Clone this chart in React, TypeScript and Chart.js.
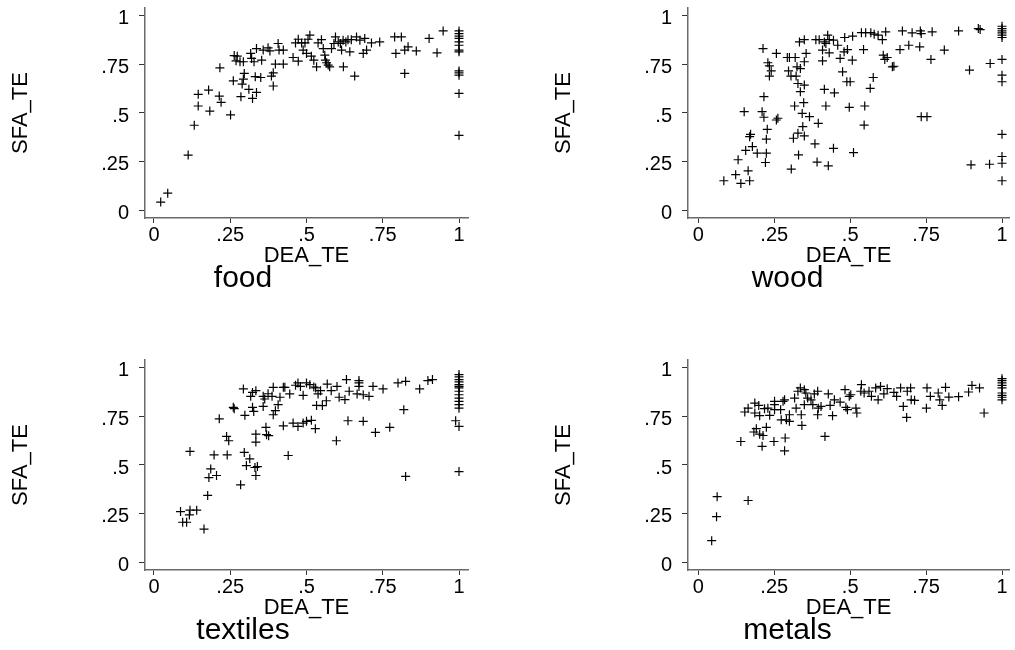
import React, { useEffect, useRef } from "react";
import { Chart, registerables } from "chart.js";

Chart.register(...registerables);

const FONT = "'Liberation Sans', Arial, Helvetica, sans-serif";

const TICK_VALUES = [0, 0.25, 0.5, 0.75, 1];
const TICK_LABELS = ["0", ".25", ".5", ".75", "1"];
const X_TITLE = "DEA_TE";
const Y_TITLE = "SFA_TE";
const PANEL_NAMES = ["food", "wood", "textiles", "metals"];

const FOOD_X = [
  0.022, 0.045, 0.112, 0.132, 0.145, 0.145, 0.179, 0.183, 0.216, 0.214,
  0.22, 0.251, 0.26, 0.263, 0.273, 0.269, 0.282, 0.293, 0.296, 0.293,
  0.289, 0.285, 0.311, 0.317, 0.32, 0.328, 0.336, 0.323, 0.332, 0.35,
  0.336, 0.353, 0.358, 0.374, 0.38, 0.385, 0.391, 0.391, 0.398, 0.407,
  0.41, 0.424, 0.424, 0.456, 0.464, 0.473, 0.473, 0.484, 0.489, 0.495,
  0.5, 0.505, 0.511, 0.516, 0.524, 0.533, 0.538, 0.549, 0.555, 0.56,
  0.562, 0.566, 0.571, 0.576, 0.582, 0.59, 0.595, 0.604, 0.611, 0.615,
  0.62, 0.621, 0.629, 0.636, 0.642, 0.647, 0.658, 0.664, 0.675, 0.686,
  0.691, 0.697, 0.713, 0.74, 0.789, 0.793, 0.811, 0.822, 0.822, 0.833,
  0.86, 0.902, 0.928, 0.948,
  1, 1, 1, 1, 1, 1, 1, 1, 1, 1, 1, 1, 1,
];
const FOOD_Y = [
  0.041, 0.087, 0.283, 0.437, 0.596, 0.536, 0.618, 0.51, 0.733, 0.587,
  0.555, 0.49, 0.666, 0.796, 0.793, 0.769, 0.764, 0.764, 0.704, 0.675,
  0.649, 0.584, 0.622, 0.807, 0.781, 0.764, 0.606, 0.575, 0.687, 0.683,
  0.832, 0.772, 0.824, 0.836, 0.82, 0.69, 0.707, 0.639, 0.752, 0.858,
  0.824, 0.824, 0.752, 0.786, 0.861, 0.767, 0.88, 0.861, 0.824, 0.861,
  0.807, 0.88, 0.901, 0.793, 0.772, 0.738, 0.861, 0.878, 0.832, 0.798,
  0.772, 0.759, 0.747, 0.738, 0.832, 0.858, 0.892, 0.866, 0.858, 0.824,
  0.875, 0.738, 0.866, 0.878, 0.815, 0.878, 0.69, 0.892, 0.875, 0.807,
  0.884, 0.824, 0.861, 0.866, 0.892, 0.807, 0.892, 0.704, 0.824, 0.841,
  0.82, 0.884, 0.81, 0.923,
  0.923, 0.909, 0.896, 0.884, 0.866, 0.849, 0.824, 0.815, 0.717, 0.707, 0.695, 0.601, 0.385,
];

const WOOD_X = [
  0.084, 0.123, 0.14, 0.169, 0.164, 0.131, 0.156, 0.178, 0.194, 0.224,
  0.221, 0.169, 0.172, 0.224, 0.227, 0.151, 0.21, 0.216, 0.257, 0.262,
  0.216, 0.213, 0.229, 0.234, 0.24, 0.234, 0.257, 0.293, 0.3, 0.297,
  0.305, 0.319, 0.325, 0.322, 0.336, 0.349, 0.355, 0.333, 0.349, 0.328,
  0.349, 0.336, 0.347, 0.317, 0.342, 0.366, 0.395, 0.344, 0.328, 0.349,
  0.313, 0.384, 0.33, 0.306, 0.391, 0.428, 0.445, 0.511, 0.42, 0.415,
  0.448, 0.497, 0.548, 0.546, 0.566, 0.576, 0.489, 0.5, 0.475, 0.467,
  0.48, 0.491, 0.507, 0.409, 0.431, 0.409, 0.387, 0.398, 0.415, 0.42,
  0.426, 0.431, 0.445, 0.459, 0.482, 0.508, 0.537, 0.551, 0.568, 0.579,
  0.592, 0.606, 0.617, 0.544, 0.609, 0.614, 0.622, 0.639, 0.644, 0.664,
  0.672, 0.693, 0.704, 0.731, 0.734, 0.729, 0.77, 0.766, 0.81, 0.734,
  0.753, 0.857, 0.893, 0.898, 0.922, 0.928, 0.961, 0.959,
  1, 1, 1, 1, 1, 1, 1, 1, 1, 1, 1, 1, 1,
];
const WOOD_Y = [
  0.151, 0.182, 0.137, 0.151, 0.202, 0.259, 0.307, 0.327, 0.293, 0.293,
  0.245, 0.378, 0.39, 0.365, 0.416, 0.507, 0.507, 0.478, 0.464, 0.473,
  0.584, 0.832, 0.759, 0.743, 0.717, 0.69, 0.807, 0.786, 0.786, 0.717,
  0.69, 0.786, 0.738, 0.69, 0.729, 0.764, 0.807, 0.866, 0.878, 0.652,
  0.644, 0.61, 0.553, 0.536, 0.498, 0.481, 0.447, 0.43, 0.396, 0.382,
  0.37, 0.341, 0.284, 0.211, 0.247, 0.228, 0.318, 0.296, 0.536, 0.622,
  0.604, 0.529, 0.536, 0.438, 0.627, 0.683, 0.661, 0.661, 0.712, 0.781,
  0.815, 0.827, 0.772, 0.769, 0.81, 0.824, 0.878, 0.878, 0.866, 0.858,
  0.901, 0.878, 0.875, 0.849, 0.889, 0.896, 0.914, 0.914, 0.914, 0.906,
  0.901, 0.878, 0.918, 0.827, 0.798, 0.776, 0.786, 0.738, 0.741, 0.827,
  0.923, 0.849, 0.913, 0.923, 0.909, 0.841, 0.918, 0.776, 0.824, 0.481,
  0.481, 0.923, 0.721, 0.233, 0.935, 0.93, 0.755, 0.236,
  0.947, 0.935, 0.923, 0.913, 0.901, 0.889, 0.776, 0.695, 0.661, 0.39, 0.276, 0.241, 0.151,
];

const TEXTILES_X = [
  0.087, 0.094, 0.107, 0.118, 0.116, 0.14, 0.164, 0.176, 0.18, 0.186,
  0.205, 0.197, 0.24, 0.118, 0.214, 0.238, 0.245, 0.26, 0.263, 0.284,
  0.296, 0.303, 0.314, 0.331, 0.334, 0.339, 0.334, 0.334, 0.298, 0.327,
  0.323, 0.293, 0.317, 0.323, 0.334, 0.358, 0.363, 0.367, 0.369, 0.376,
  0.358, 0.374, 0.391, 0.387, 0.391, 0.398, 0.407, 0.413, 0.424, 0.429,
  0.445, 0.424, 0.44, 0.456, 0.472, 0.489, 0.5, 0.516, 0.529, 0.464,
  0.472, 0.48, 0.489, 0.5, 0.511, 0.524, 0.53, 0.538, 0.546, 0.533,
  0.552, 0.565, 0.568, 0.581, 0.598, 0.6, 0.607, 0.626, 0.631, 0.64,
  0.672, 0.672, 0.672, 0.666, 0.686, 0.705, 0.718, 0.726, 0.751, 0.773,
  0.8, 0.825, 0.819, 0.825, 0.871, 0.898, 0.913, 0.636, 0.686, 0.989,
  1, 1, 1, 1, 1, 1, 1, 1, 1, 1, 1, 1, 1, 1, 1,
];
const TEXTILES_Y = [
  0.26, 0.205, 0.205, 0.267, 0.243, 0.267, 0.17, 0.343, 0.435, 0.48,
  0.446, 0.552, 0.552, 0.57, 0.738, 0.647, 0.625, 0.797, 0.79, 0.398,
  0.565, 0.497, 0.532, 0.487, 0.446, 0.492, 0.659, 0.618, 0.756, 0.776,
  0.797, 0.892, 0.854, 0.874, 0.883, 0.854, 0.84, 0.694, 0.656, 0.651,
  0.802, 0.867, 0.9, 0.854, 0.759, 0.78, 0.811, 0.849, 0.9, 0.9,
  0.866, 0.702, 0.549, 0.716, 0.699, 0.716, 0.725, 0.73, 0.687, 0.911,
  0.923, 0.905, 0.859, 0.923, 0.914, 0.902, 0.897, 0.866, 0.883, 0.807,
  0.806, 0.831, 0.917, 0.883, 0.625, 0.905, 0.849, 0.837, 0.94, 0.88,
  0.935, 0.923, 0.905, 0.866, 0.862, 0.854, 0.905, 0.668, 0.892, 0.694,
  0.923, 0.931, 0.785, 0.441, 0.892, 0.935, 0.94, 0.728, 0.725, 0.728,
  0.966, 0.954, 0.94, 0.928, 0.914, 0.905, 0.897, 0.88, 0.862, 0.845, 0.828, 0.811, 0.793, 0.699, 0.466,
];

const METALS_X = [
  0.044, 0.06, 0.062, 0.164, 0.14, 0.153, 0.164, 0.186, 0.186, 0.202,
  0.199, 0.218, 0.229, 0.235, 0.251, 0.251, 0.271, 0.279, 0.284, 0.273,
  0.29, 0.3, 0.183, 0.191, 0.202, 0.213, 0.224, 0.21, 0.249, 0.286,
  0.284, 0.317, 0.322, 0.328, 0.339, 0.341, 0.336, 0.349, 0.354, 0.36,
  0.371, 0.382, 0.393, 0.395, 0.404, 0.393, 0.417, 0.428, 0.434, 0.442,
  0.448, 0.467, 0.483, 0.486, 0.491, 0.497, 0.502, 0.519, 0.522, 0.537,
  0.535, 0.546, 0.562, 0.57, 0.584, 0.592, 0.6, 0.611, 0.622, 0.644,
  0.653, 0.666, 0.675, 0.686, 0.688, 0.699, 0.701, 0.712, 0.753, 0.751,
  0.764, 0.79, 0.795, 0.803, 0.814, 0.825, 0.857, 0.89, 0.901, 0.926,
  0.941, 0.3, 0.349, 0.377, 0.251,
  1, 1, 1, 1, 1, 1, 1, 1, 1,
];
const METALS_Y = [
  0.11, 0.234, 0.337, 0.317, 0.621, 0.773, 0.793, 0.819, 0.768, 0.754,
  0.807, 0.79, 0.793, 0.756, 0.828, 0.811, 0.785, 0.828, 0.836, 0.733,
  0.733, 0.725, 0.67, 0.687, 0.659, 0.652, 0.694, 0.596, 0.621, 0.639,
  0.573, 0.845, 0.793, 0.88, 0.759, 0.704, 0.897, 0.888, 0.871, 0.845,
  0.836, 0.866, 0.88, 0.793, 0.802, 0.759, 0.647, 0.866, 0.807, 0.754,
  0.836, 0.824, 0.888, 0.797, 0.785, 0.854, 0.862, 0.793, 0.768, 0.914,
  0.88, 0.871, 0.88, 0.854, 0.897, 0.836, 0.905, 0.866, 0.893, 0.874,
  0.854, 0.897, 0.802, 0.745, 0.88, 0.897, 0.836, 0.833, 0.897, 0.793,
  0.854, 0.871, 0.836, 0.807, 0.9, 0.85, 0.852, 0.876, 0.91, 0.897,
  0.768, 0.759, 0.811, 0.811, 0.785,
  0.945, 0.935, 0.923, 0.91, 0.897, 0.871, 0.859, 0.849, 0.836,
];

const SERIES_X = [FOOD_X, WOOD_X, TEXTILES_X, METALS_X];
const SERIES_Y = [FOOD_Y, WOOD_Y, TEXTILES_Y, METALS_Y];

type PanelLayout = {
  left: number;
  top: number;
  width: number;
  height: number;
  padL: number;
  padR: number;
  padB: number;
  axisX: number;
  xMin: number;
  xMax: number;
  yTitlePad: number;
};

const LEFT_COL = { left: 0, width: 507, padL: 18, padR: 39, axisX: 145, xMin: -0.0295, xMax: 1.0295, yTitlePad: -8 };
const RIGHT_COL = { left: 507, width: 508, padL: 57, padR: 4, axisX: 181, xMin: -0.034, xMax: 1.024, yTitlePad: -11 };
const TOP_ROW = { top: 0, height: 325, padB: 31 };
const BOTTOM_ROW = { top: 352, height: 298, padB: 4 };

const LAYOUTS: PanelLayout[] = [
  { ...LEFT_COL, ...TOP_ROW },
  { ...RIGHT_COL, ...TOP_ROW },
  { ...LEFT_COL, ...BOTTOM_ROW },
  { ...RIGHT_COL, ...BOTTOM_ROW },
];

function Panel({ name, xs, ys, lay }: { name: string; xs: number[]; ys: number[]; lay: PanelLayout }) {
  const ref = useRef<HTMLCanvasElement>(null);
  useEffect(() => {
    const canvas = ref.current;
    if (!canvas) return;
    const points = xs.map((x, i) => ({ x, y: ys[i] }));
    const tickFont = { family: FONT, size: 20, weight: "normal" as const, lineHeight: 1.2 };
    const titleFont = { family: FONT, size: 22, weight: "normal" as const, lineHeight: 1 };
    const chart = new Chart(canvas, {
      type: "scatter",
      data: {
        datasets: [
          {
            data: points,
            pointStyle: "cross",
            pointRadius: 4.5,
            pointHoverRadius: 4.5,
            borderColor: "#000",
            backgroundColor: "#000",
            borderWidth: 1.2,
          },
        ],
      },
      options: {
        animation: false,
        responsive: false,
        devicePixelRatio: 1,
        events: [],
        layout: { padding: { left: lay.padL, right: lay.padR, top: 8, bottom: lay.padB } },
        plugins: {
          legend: { display: false },
          tooltip: { enabled: false },
          title: {
            display: true,
            text: name,
            position: "bottom",
            color: "#000",
            font: { family: FONT, size: 30, weight: "normal", lineHeight: 1 },
            padding: { top: -2, bottom: 0 },
          },
        },
        scales: {
          x: {
            type: "linear",
            position: "bottom",
            min: lay.xMin,
            max: lay.xMax,
            bounds: "data",
            afterBuildTicks: (s: any) => {
              s.ticks = TICK_VALUES.map((v) => ({ value: v }));
            },
            afterFit: (s: any) => {
              s.height = 48;
              s.paddingLeft = 0;
              s.paddingRight = 0;
            },
            grid: { display: true, drawOnChartArea: false, drawTicks: true, tickLength: 5, color: "#333", lineWidth: 1 },
            border: { display: true, color: "#6a6a6a", width: 1.5 },
            ticks: {
              autoSkip: false,
              maxRotation: 0,
              minRotation: 0,
              padding: 0,
              color: "#000",
              font: tickFont,
              callback: (_v: any, i: number) => TICK_LABELS[i],
            },
            title: { display: true, text: X_TITLE, color: "#000", font: titleFont, padding: { top: 0, bottom: -1 } },
          },
          y: {
            type: "linear",
            position: "left",
            min: -0.041,
            max: 1.041,
            bounds: "data",
            afterBuildTicks: (s: any) => {
              s.ticks = TICK_VALUES.map((v) => ({ value: v }));
            },
            afterFit: (s: any) => {
              s.width = lay.axisX - lay.padL;
              s.paddingTop = 0;
              s.paddingBottom = 0;
            },
            grid: { display: true, drawOnChartArea: false, drawTicks: true, tickLength: 6, color: "#333", lineWidth: 1 },
            border: { display: true, color: "#6a6a6a", width: 1.5 },
            ticks: {
              autoSkip: false,
              padding: 10,
              labelOffset: 3,
              color: "#000",
              font: tickFont,
              callback: (_v: any, i: number) => TICK_LABELS[i],
            },
            title: { display: true, text: Y_TITLE, color: "#000", font: titleFont, padding: { top: lay.yTitlePad, bottom: 0 } },
          },
        },
      },
    } as any);
    return () => chart.destroy();
  }, []);
  return (
    <canvas
      ref={ref}
      width={lay.width}
      height={lay.height}
      style={{ position: "absolute", left: lay.left, top: lay.top, width: lay.width, height: lay.height }}
    />
  );
}

export default function App() {
  return (
    <div style={{ position: "absolute", left: 0, top: 0, width: 1015, height: 650, background: "#fff", overflow: "hidden" }}>
      {PANEL_NAMES.map((name, i) => (
        <Panel key={name} name={name} xs={SERIES_X[i]} ys={SERIES_Y[i]} lay={LAYOUTS[i]} />
      ))}
    </div>
  );
}
